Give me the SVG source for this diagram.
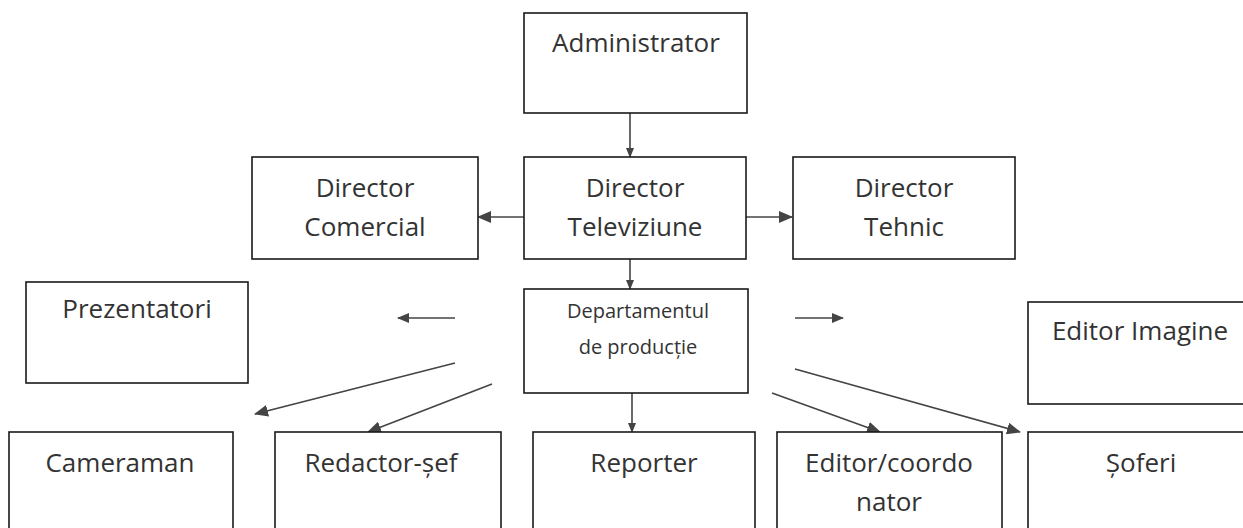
<svg xmlns="http://www.w3.org/2000/svg" width="1243" height="528" viewBox="0 0 1243 528">
<style>
.box{fill:#fff;stroke:#1a1a1a;stroke-width:1.6}
.t{font-family:"Open Sans","Liberation Sans",sans-serif;font-size:26px;fill:#333;text-anchor:middle}
.ts{font-family:"Open Sans","Liberation Sans",sans-serif;font-size:20px;fill:#333;text-anchor:middle}
.c{stroke:#444;stroke-width:1.6;fill:none}
</style>
<defs>
<marker id="ah" markerUnits="userSpaceOnUse" markerWidth="14" markerHeight="12" refX="13" refY="6" orient="auto">
<path d="M0,0 L14,6 L0,12 Z" fill="#444"/>
</marker>
<marker id="ahm" markerUnits="userSpaceOnUse" markerWidth="12" markerHeight="10" refX="11" refY="5" orient="auto">
<path d="M0,0 L12,5 L0,10 Z" fill="#444"/>
</marker>
<marker id="ahs" markerUnits="userSpaceOnUse" markerWidth="10" markerHeight="8" refX="9" refY="4" orient="auto">
<path d="M0,0 L10,4 L0,8 Z" fill="#444"/>
</marker>
</defs>
<rect width="1243" height="528" fill="#fff"/>
<g id="connectors">
<line class="c" x1="630" y1="113" x2="630" y2="157" marker-end="url(#ahs)"/>
<line class="c" x1="524" y1="217" x2="478" y2="217" marker-end="url(#ah)"/>
<line class="c" x1="746" y1="217" x2="792" y2="217" marker-end="url(#ah)"/>
<line class="c" x1="630" y1="259" x2="630" y2="289" marker-end="url(#ahs)"/>
<line class="c" x1="455" y1="318" x2="398" y2="318" marker-end="url(#ahm)"/>
<line class="c" x1="795" y1="318" x2="843" y2="318" marker-end="url(#ahm)"/>
<line class="c" x1="455" y1="363" x2="255" y2="414" marker-end="url(#ah)"/>
<line class="c" x1="492" y1="384" x2="368" y2="432" marker-end="url(#ah)"/>
<line class="c" x1="632" y1="393" x2="632" y2="432" marker-end="url(#ahs)"/>
<line class="c" x1="772" y1="393" x2="880" y2="432" marker-end="url(#ah)"/>
<line class="c" x1="795" y1="369" x2="1020" y2="432" marker-end="url(#ah)"/>
</g>
<g id="administrator"><rect class="box" x="524" y="13" width="223" height="100"/><text class="t" x="636" y="52">Administrator</text></g>
<g id="director-comercial"><rect class="box" x="252" y="157" width="226" height="102"/><text class="t" x="365" y="197">Director</text><text class="t" x="365" y="236">Comercial</text></g>
<g id="director-televiziune"><rect class="box" x="524" y="157" width="222" height="102"/><text class="t" x="635" y="197">Director</text><text class="t" x="635" y="236">Televiziune</text></g>
<g id="director-tehnic"><rect class="box" x="793" y="157" width="222" height="102"/><text class="t" x="904" y="197">Director</text><text class="t" x="904" y="236">Tehnic</text></g>
<g id="departament"><rect class="box" x="524" y="289" width="224" height="104"/><text class="ts" x="638" y="318">Departamentul</text><text class="ts" x="638" y="354">de producție</text></g>
<g id="prezentatori"><rect class="box" x="26" y="282" width="222" height="101"/><text class="t" x="137" y="318">Prezentatori</text></g>
<g id="editor-imagine"><rect class="box" x="1028" y="302" width="225" height="102"/><text class="t" x="1140" y="340">Editor Imagine</text></g>
<g id="cameraman"><rect class="box" x="9" y="432" width="224" height="110"/><text class="t" x="120" y="472">Cameraman</text></g>
<g id="redactor-sef"><rect class="box" x="275" y="432" width="226" height="110"/><text class="t" x="381" y="472">Redactor-șef</text></g>
<g id="reporter"><rect class="box" x="533" y="432" width="222" height="110"/><text class="t" x="644" y="472">Reporter</text></g>
<g id="editor-coordonator"><rect class="box" x="777" y="432" width="225" height="110"/><text class="t" x="889" y="472">Editor/coordo</text><text class="t" x="889" y="511">nator</text></g>
<g id="soferi"><rect class="box" x="1028" y="432" width="225" height="110"/><text class="t" x="1141" y="472">Șoferi</text></g>
</svg>
